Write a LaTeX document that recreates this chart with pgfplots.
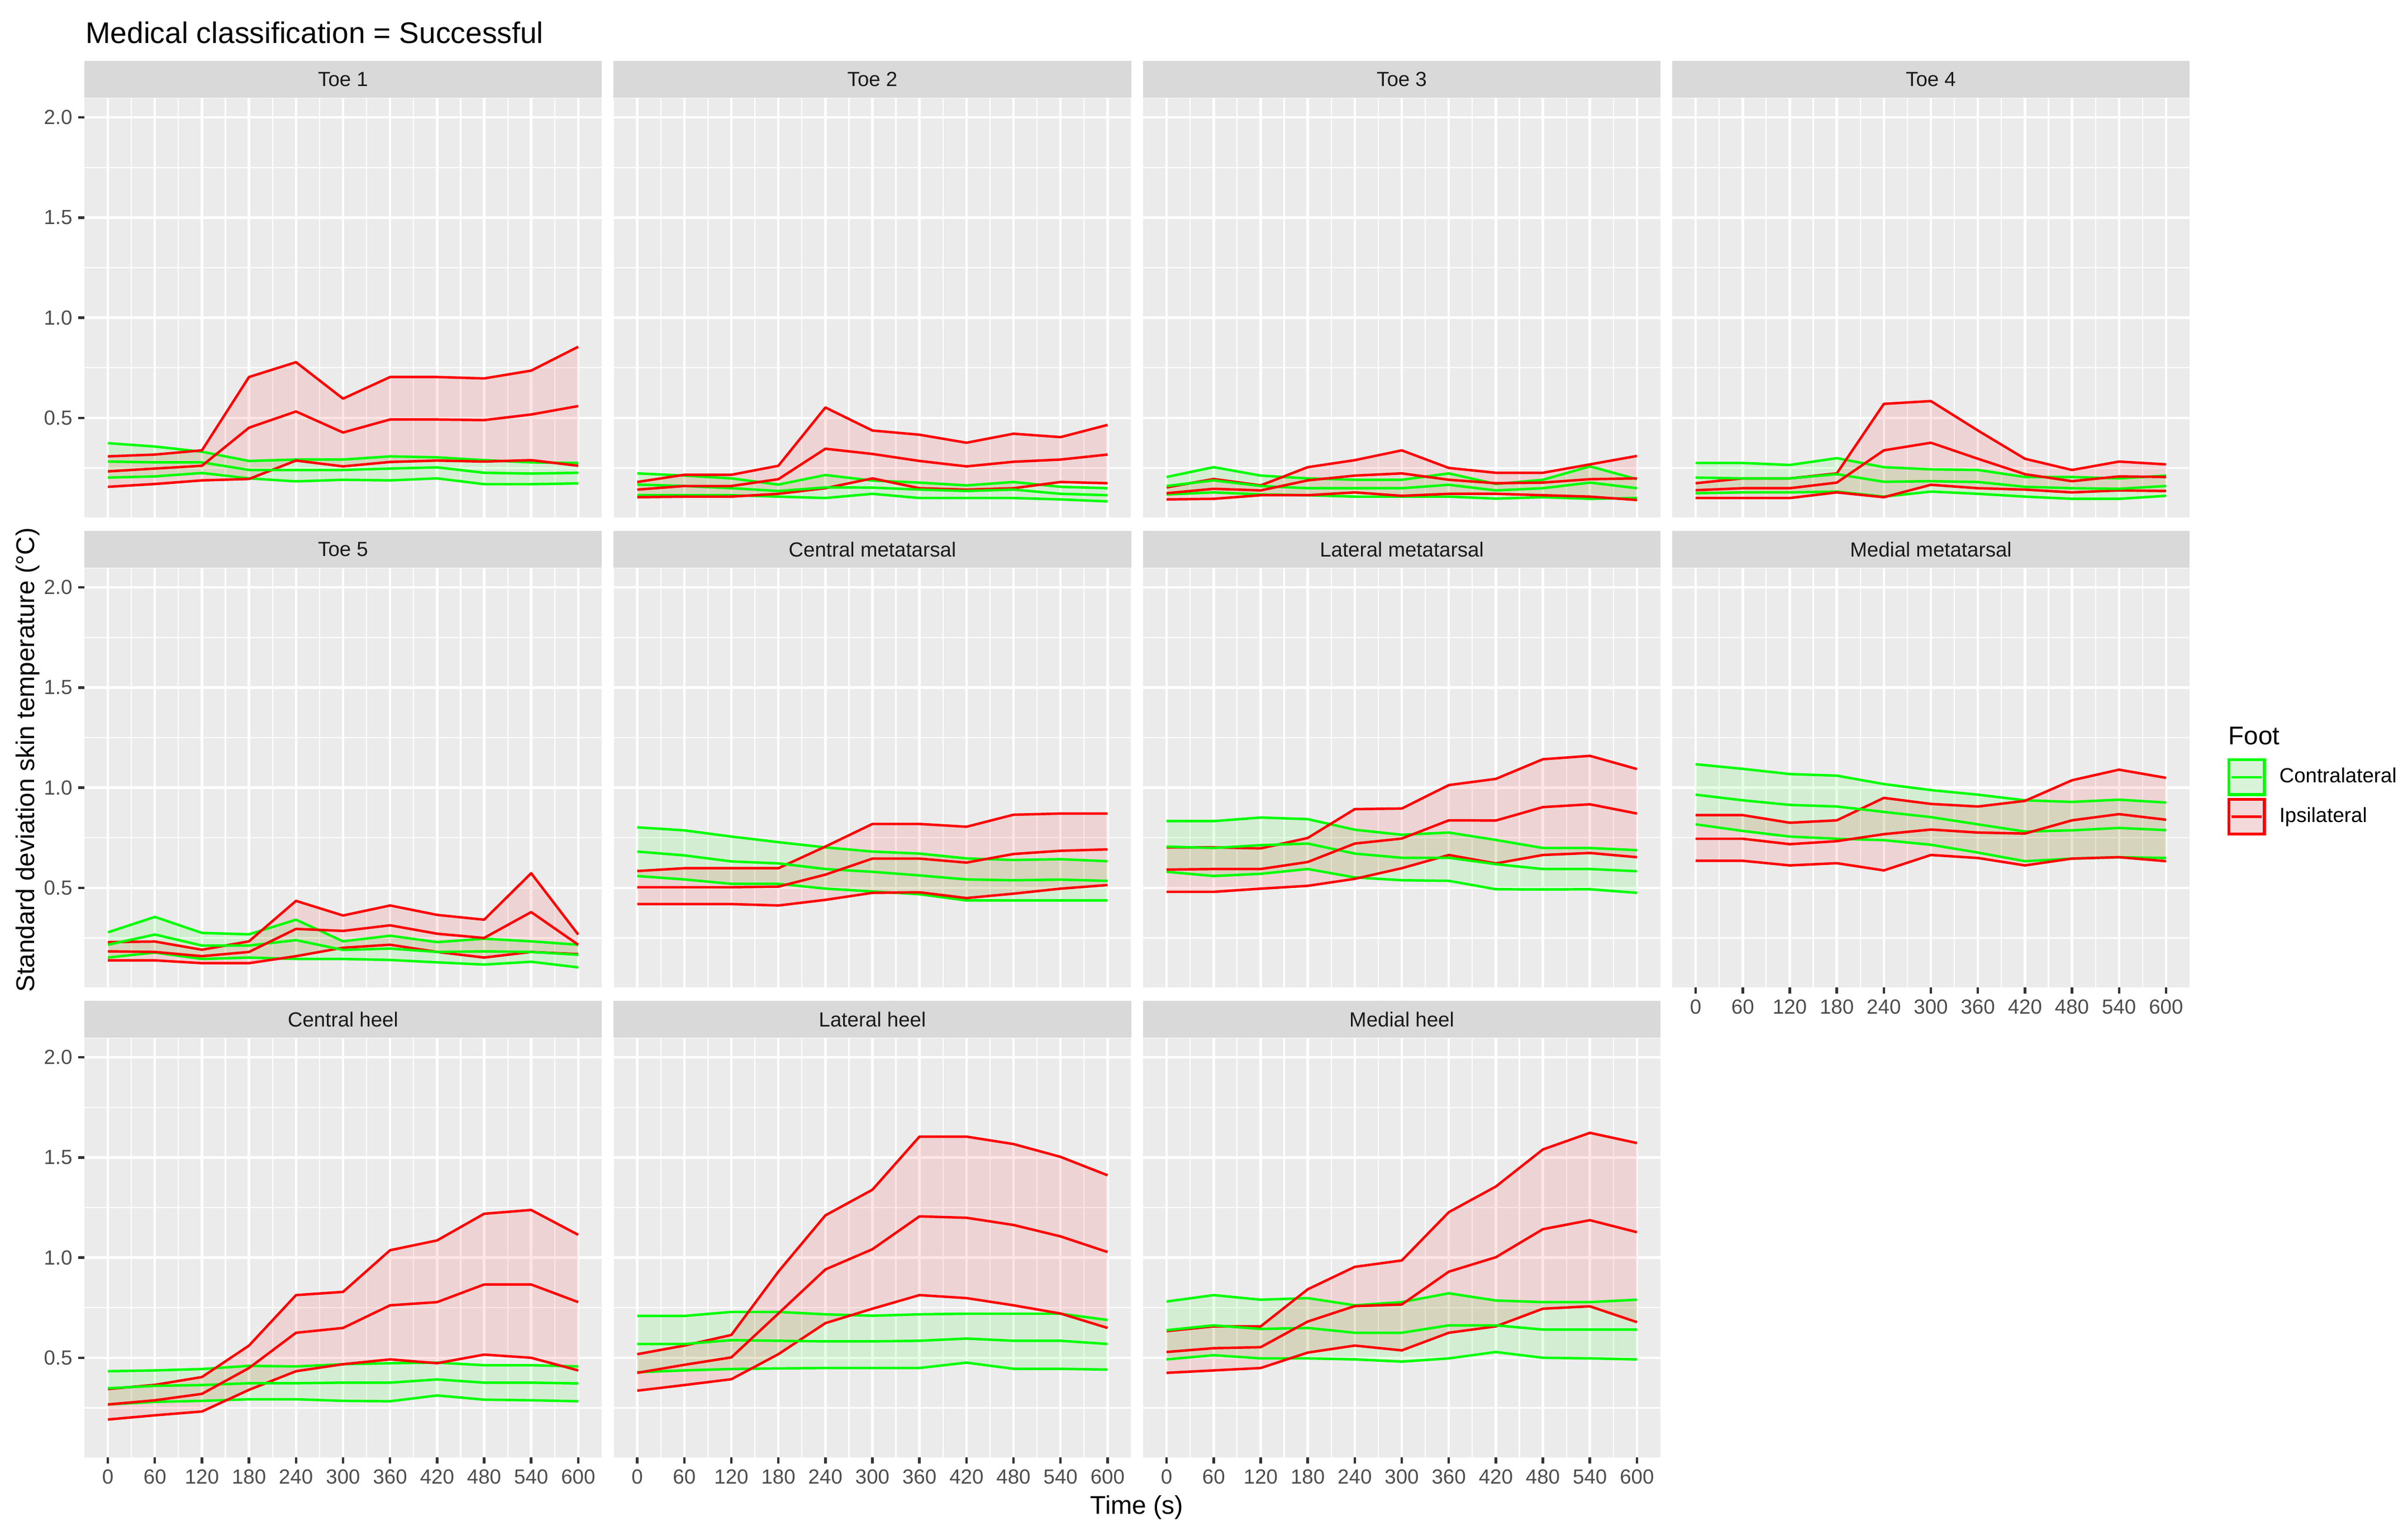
\documentclass[border=0pt]{standalone}
\usepackage{fontspec}
\setmainfont{Liberation Sans}
\usepackage{pgfplots}
\pgfplotsset{compat=1.18}
\usepackage{pgfplotstable}
\usepgfplotslibrary{fillbetween}
\definecolor{panelbg}{HTML}{EBEBEB}
\definecolor{stripbg}{HTML}{D9D9D9}
\definecolor{gray30}{HTML}{4D4D4D}
\definecolor{gray20}{HTML}{333333}
\definecolor{gray10}{HTML}{1A1A1A}
\definecolor{legkeybg}{HTML}{F2F2F2}
\definecolor{cgreen}{HTML}{00FF00}
\definecolor{cred}{HTML}{FF0000}

\pgfplotstableread{
t gl gm gu rl rm ru
0 0.202 0.282 0.374 0.156 0.233 0.308
60 0.208 0.278 0.357 0.170 0.247 0.317
120 0.225 0.278 0.331 0.188 0.261 0.338
180 0.198 0.240 0.285 0.195 0.451 0.704
240 0.183 0.240 0.292 0.287 0.532 0.778
300 0.191 0.240 0.292 0.258 0.427 0.596
360 0.188 0.247 0.308 0.280 0.492 0.704
420 0.198 0.253 0.303 0.287 0.492 0.704
480 0.169 0.226 0.289 0.282 0.489 0.697
540 0.169 0.222 0.278 0.289 0.517 0.736
600 0.173 0.226 0.275 0.261 0.559 0.855
}\tToeA
\pgfplotstableread{
t gl gm gu rl rm ru
0 0.114 0.167 0.223 0.104 0.142 0.180
60 0.114 0.160 0.212 0.107 0.160 0.216
120 0.114 0.149 0.198 0.107 0.160 0.216
180 0.107 0.135 0.167 0.121 0.194 0.261
240 0.100 0.153 0.215 0.149 0.346 0.552
300 0.121 0.152 0.187 0.198 0.320 0.437
360 0.100 0.142 0.177 0.149 0.285 0.416
420 0.100 0.135 0.163 0.142 0.258 0.376
480 0.100 0.142 0.180 0.149 0.281 0.421
540 0.093 0.121 0.156 0.180 0.292 0.404
600 0.083 0.114 0.149 0.174 0.317 0.465
}\tToeB
\pgfplotstableread{
t gl gm gu rl rm ru
0 0.118 0.160 0.205 0.093 0.124 0.153
60 0.128 0.188 0.254 0.096 0.146 0.195
120 0.118 0.160 0.212 0.114 0.138 0.163
180 0.114 0.149 0.198 0.114 0.188 0.254
240 0.107 0.149 0.191 0.128 0.212 0.289
300 0.107 0.149 0.191 0.111 0.223 0.338
360 0.107 0.166 0.223 0.121 0.191 0.250
420 0.097 0.138 0.170 0.121 0.174 0.226
480 0.104 0.149 0.191 0.114 0.177 0.226
540 0.096 0.177 0.258 0.107 0.194 0.268
600 0.100 0.149 0.194 0.090 0.198 0.310
}\tToeC
\pgfplotstableread{
t gl gm gu rl rm ru
0 0.124 0.202 0.275 0.100 0.139 0.174
60 0.128 0.198 0.275 0.100 0.149 0.198
120 0.128 0.198 0.265 0.100 0.149 0.198
180 0.132 0.219 0.299 0.128 0.177 0.223
240 0.107 0.181 0.254 0.104 0.338 0.570
300 0.132 0.184 0.243 0.166 0.376 0.584
360 0.121 0.180 0.240 0.149 0.296 0.437
420 0.107 0.156 0.205 0.142 0.219 0.296
480 0.096 0.149 0.205 0.128 0.184 0.240
540 0.096 0.146 0.198 0.138 0.208 0.282
600 0.111 0.160 0.212 0.135 0.205 0.268
}\tToeD
\pgfplotstableread{
t gl gm gu rl rm ru
0 0.152 0.216 0.278 0.138 0.183 0.229
60 0.177 0.267 0.355 0.138 0.180 0.232
120 0.145 0.212 0.275 0.124 0.159 0.191
180 0.152 0.212 0.268 0.124 0.180 0.233
240 0.145 0.239 0.341 0.159 0.295 0.435
300 0.145 0.190 0.233 0.201 0.285 0.362
360 0.140 0.197 0.261 0.216 0.313 0.412
420 0.128 0.180 0.229 0.180 0.271 0.365
480 0.117 0.183 0.246 0.152 0.250 0.341
540 0.131 0.180 0.233 0.180 0.379 0.573
600 0.103 0.166 0.216 0.169 0.216 0.267
}\tToeE
\pgfplotstableread{
t gl gm gu rl rm ru
0 0.559 0.681 0.802 0.419 0.503 0.584
60 0.542 0.662 0.787 0.419 0.503 0.598
120 0.520 0.632 0.756 0.419 0.503 0.598
180 0.520 0.622 0.728 0.412 0.506 0.598
240 0.496 0.594 0.702 0.440 0.566 0.706
300 0.482 0.580 0.681 0.475 0.646 0.819
360 0.468 0.562 0.671 0.478 0.646 0.819
420 0.437 0.542 0.647 0.449 0.626 0.805
480 0.437 0.538 0.639 0.471 0.669 0.865
540 0.437 0.541 0.643 0.496 0.685 0.871
600 0.437 0.535 0.633 0.514 0.692 0.871
}\tCenMet
\pgfplotstableread{
t gl gm gu rl rm ru
0 0.580 0.706 0.833 0.480 0.591 0.702
60 0.559 0.699 0.833 0.480 0.594 0.702
120 0.570 0.713 0.851 0.496 0.594 0.697
180 0.594 0.721 0.843 0.510 0.629 0.749
240 0.552 0.671 0.790 0.545 0.721 0.893
300 0.538 0.650 0.765 0.598 0.746 0.896
360 0.535 0.650 0.776 0.664 0.837 1.013
420 0.493 0.618 0.739 0.622 0.836 1.044
480 0.492 0.594 0.699 0.664 0.903 1.142
540 0.493 0.594 0.699 0.674 0.917 1.159
600 0.475 0.583 0.688 0.653 0.871 1.093
}\tLatMet
\pgfplotstableread{
t gl gm gu rl rm ru
0 0.817 0.965 1.117 0.635 0.745 0.863
60 0.784 0.937 1.094 0.635 0.745 0.863
120 0.756 0.914 1.068 0.612 0.718 0.825
180 0.745 0.906 1.060 0.623 0.733 0.837
240 0.738 0.879 1.018 0.587 0.768 0.949
300 0.715 0.853 0.988 0.664 0.791 0.919
360 0.676 0.817 0.965 0.649 0.776 0.906
420 0.633 0.781 0.937 0.612 0.771 0.934
480 0.646 0.787 0.929 0.646 0.837 1.037
540 0.653 0.799 0.940 0.653 0.868 1.090
600 0.649 0.788 0.926 0.633 0.840 1.049
}\tMedMet
\pgfplotstableread{
t gl gm gu rl rm ru
0 0.267 0.348 0.433 0.192 0.267 0.344
60 0.280 0.360 0.437 0.213 0.288 0.365
120 0.285 0.364 0.444 0.232 0.320 0.404
180 0.293 0.373 0.460 0.340 0.449 0.561
240 0.293 0.373 0.457 0.433 0.625 0.813
300 0.285 0.376 0.468 0.468 0.649 0.829
360 0.283 0.376 0.473 0.492 0.762 1.037
420 0.312 0.392 0.476 0.473 0.778 1.086
480 0.291 0.376 0.463 0.516 0.866 1.219
540 0.288 0.376 0.463 0.500 0.866 1.238
600 0.283 0.372 0.457 0.437 0.778 1.114
}\tCenHeel
\pgfplotstableread{
t gl gm gu rl rm ru
0 0.428 0.569 0.709 0.336 0.425 0.518
60 0.437 0.569 0.709 0.364 0.465 0.561
120 0.444 0.588 0.729 0.393 0.502 0.614
180 0.447 0.585 0.729 0.518 0.721 0.930
240 0.449 0.582 0.717 0.673 0.941 1.211
300 0.449 0.582 0.710 0.745 1.042 1.339
360 0.449 0.585 0.717 0.813 1.206 1.604
420 0.476 0.596 0.720 0.798 1.199 1.604
480 0.445 0.585 0.720 0.762 1.163 1.567
540 0.445 0.585 0.720 0.721 1.106 1.503
600 0.441 0.569 0.689 0.649 1.028 1.411
}\tLatHeel
\pgfplotstableread{
t gl gm gu rl rm ru
0 0.492 0.638 0.781 0.425 0.529 0.633
60 0.513 0.662 0.813 0.437 0.548 0.657
120 0.497 0.644 0.790 0.449 0.553 0.657
180 0.497 0.649 0.798 0.526 0.681 0.842
240 0.492 0.625 0.762 0.561 0.758 0.954
300 0.481 0.625 0.778 0.537 0.766 0.986
360 0.497 0.662 0.822 0.625 0.930 1.227
420 0.529 0.662 0.786 0.657 1.002 1.355
480 0.500 0.641 0.778 0.745 1.142 1.540
540 0.497 0.641 0.778 0.757 1.187 1.623
600 0.492 0.641 0.790 0.678 1.127 1.572
}\tMedHeel

\pgfplotsset{
  gline/.style={cgreen, line width=1.07pt, line join=round},
  rline/.style={cred, line width=1.07pt, line join=round},
  facet/.style={
    scale only axis, width=222.24pt, height=180pt, anchor=north west,
    xmin=-30, xmax=630, ymin=0.003, ymax=2.095,
    axis background/.style={fill=panelbg},
    axis line style={draw=none},
    xtick={0,60,...,600}, ytick={0.5,1,1.5,2},
    minor xtick={30,90,...,570}, minor ytick={0.25,0.75,1.25,1.75},
    xmajorgrids, ymajorgrids, xminorgrids, yminorgrids,
    major grid style={white, line width=1.07pt},
    minor grid style={white, line width=0.53pt},
    tick align=outside, major tick length=2.75pt, minor tick length=0pt,
    tick style={gray20, line width=1.07pt},
    xtick pos=left, ytick pos=left,
    xticklabels={}, yticklabels={},
    xtick style={draw=none}, ytick style={draw=none},
    xticklabel style={font=\fontsize{8.8}{10}\selectfont, text=gray30, inner sep=0pt, yshift=-2.2pt},
    yticklabel style={font=\fontsize{8.8}{10}\selectfont, text=gray30, inner sep=0pt, xshift=-2.2pt},
    title style={at={(0.5,1)}, anchor=south, yshift=-6pt, fill=stripbg,
      minimum width=222.24pt, minimum height=15.84pt, inner sep=0pt,
      text=gray10, font=\fontsize{8.8}{10.5}\selectfont},
  },
  xlab/.style={xticklabels={0,60,120,180,240,300,360,420,480,540,600}, xtick style={draw=gray20}},
  ylab/.style={yticklabels={0.5,1.0,1.5,2.0}, ytick style={draw=gray20}},
  legG/.style={legend image code/.code={
    \fill[legkeybg] (0pt,-7.92pt) rectangle (16.08pt,7.92pt);
    \fill[cgreen, fill opacity=0.1] (0pt,-7.92pt) rectangle (16.08pt,7.92pt);
    \draw[cgreen, line width=1.07pt] (0.53pt,-7.39pt) rectangle (15.55pt,7.39pt);
    \draw[cgreen, line width=1.07pt] (1.6pt,0pt) -- (14.5pt,0pt);}},
  legR/.style={legend image code/.code={
    \fill[legkeybg] (0pt,-7.92pt) rectangle (16.08pt,7.92pt);
    \fill[cred, fill opacity=0.1] (0pt,-7.92pt) rectangle (16.08pt,7.92pt);
    \draw[cred, line width=1.07pt] (0.53pt,-7.39pt) rectangle (15.55pt,7.39pt);
    \draw[cred, line width=1.07pt] (1.6pt,0pt) -- (14.5pt,0pt);}},
}

\newcommand{\bands}[1]{%
  \addplot[draw=none, name path=gu] table[x=t,y=gu]{#1};
  \addplot[draw=none, name path=gl] table[x=t,y=gl]{#1};
  \addplot[fill=cgreen, fill opacity=0.1, draw=none] fill between[of=gu and gl];
  \addplot[gline] table[x=t,y=gu]{#1};
  \addplot[gline] table[x=t,y=gl]{#1};
  \addplot[draw=none, name path=ru] table[x=t,y=ru]{#1};
  \addplot[draw=none, name path=rl] table[x=t,y=rl]{#1};
  \addplot[fill=cred, fill opacity=0.1, draw=none] fill between[of=ru and rl];
  \addplot[rline] table[x=t,y=ru]{#1};
  \addplot[rline] table[x=t,y=rl]{#1};
  \addplot[gline] table[x=t,y=gm]{#1};
  \addplot[rline] table[x=t,y=rm]{#1};
}

\begin{document}
\begin{tikzpicture}

% Row 1
\begin{axis}[facet, ylab, title={Toe 1}, at={(36.24pt,-42.24pt)}]
\bands{\tToeA}
\end{axis}
\begin{axis}[facet, title={Toe 2}, at={(263.64pt,-42.24pt)}]
\bands{\tToeB}
\end{axis}
\begin{axis}[facet, title={Toe 3}, at={(491.04pt,-42.24pt)}]
\bands{\tToeC}
\end{axis}
\begin{axis}[facet, title={Toe 4}, at={(718.32pt,-42.24pt)}]
\bands{\tToeD}
\end{axis}

% Row 2
\begin{axis}[facet, ylab, title={Toe 5}, at={(36.24pt,-244.08pt)}]
\bands{\tToeE}
\end{axis}
\begin{axis}[facet, title={Central metatarsal}, at={(263.64pt,-244.08pt)}]
\bands{\tCenMet}
\end{axis}
\begin{axis}[facet, title={Lateral metatarsal}, at={(491.04pt,-244.08pt)}]
\bands{\tLatMet}
\end{axis}
\begin{axis}[facet, xlab, title={Medial metatarsal}, at={(718.32pt,-244.08pt)},
  legend style={at={(axis description cs:1.0734,0.5467)}, anchor=north west,
    draw=none, fill=none, inner sep=0pt, outer sep=0pt,
    font=\fontsize{8.8}{10}\selectfont, row sep=0.7pt, column sep=5.8pt,
    nodes={inner sep=0pt}},
  legend cell align=left]
\addlegendimage{legG}
\addlegendentry{Contralateral}
\addlegendimage{legR}
\addlegendentry{Ipsilateral}
\bands{\tMedMet}
\end{axis}

% Row 3
\begin{axis}[facet, xlab, ylab, title={Central heel}, at={(36.24pt,-445.92pt)}]
\bands{\tCenHeel}
\end{axis}
\begin{axis}[facet, xlab, title={Lateral heel}, at={(263.64pt,-445.92pt)}]
\bands{\tLatHeel}
\end{axis}
\begin{axis}[facet, xlab, title={Medial heel}, at={(491.04pt,-445.92pt)}]
\bands{\tMedHeel}
\end{axis}

% Titles and labels
\node[anchor=base west, inner sep=0pt, font=\fontsize{12.8}{15}\selectfont] at (36.6pt,-18.5pt) {Medical classification = Successful};
\node[anchor=center, inner sep=0pt, font=\fontsize{11}{13}\selectfont] at (488.4pt,-647.5pt) {Time (s)};
\node[anchor=center, inner sep=0pt, rotate=90, font=\fontsize{11}{13}\selectfont] at (11.8pt,-326.4pt) {Standard deviation skin temperature (°C)};
\node[anchor=base west, inner sep=0pt, font=\fontsize{11}{13}\selectfont] at (957.12pt,-319.68pt) {Foot};

\pgfresetboundingbox
\useasboundingbox (0,0) rectangle (1034.4pt,-656.88pt);
\end{tikzpicture}
\end{document}
